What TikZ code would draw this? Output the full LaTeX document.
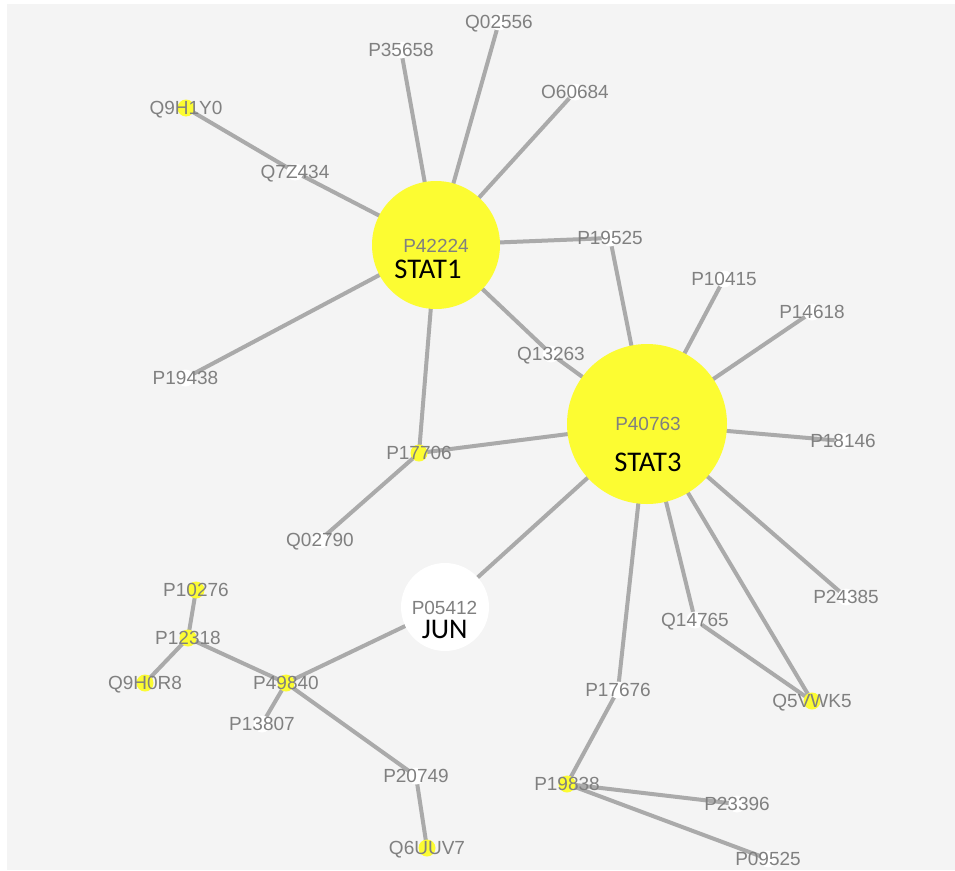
\documentclass[tikz,border=0pt]{standalone}
\usepackage{fontspec}
\setmainfont{Liberation Sans}
\newfontfamily\namefont{Carlito}
\pgfdeclarelayer{backdrop}
\pgfdeclarelayer{edgelayer}
\pgfsetlayers{backdrop,edgelayer,main}
\definecolor{bggray}{RGB}{244,244,244}
\definecolor{edgegray}{RGB}{170,170,170}
\definecolor{idgray}{RGB}{128,128,128}
\definecolor{hityellow}{RGB}{252,252,50}
\tikzset{
  % labels are placed by their baseline so that the cap height is centred on the point
  idtext/.style={text=idgray, font=\fontsize{19}{19}\selectfont, inner sep=0pt,
    anchor=base, yshift=-6.8pt},
  nametext/.style={text=black, font=\namefont\fontsize{28.5}{28.5}\selectfont, inner sep=0pt,
    anchor=base, yshift=-9.2pt},
  prot/.style={circle, inner sep=0pt, minimum size=17pt, fill=white},
  hit/.style={prot, fill=hityellow},
  hub/.style={circle, inner sep=0pt, fill=hityellow},
  link/.style={draw=edgegray, line width=4pt},
}
\begin{document}
\begin{tikzpicture}[x=1pt, y=-1pt]
\useasboundingbox (0,0) rectangle (955,870);
\begin{pgfonlayer}{backdrop}
\fill[bggray] (7,4) rectangle (955,870);
\end{pgfonlayer}

% hub proteins
\node[hub, minimum size=128pt] (P42224) at (436,245) {};
\node[idtext] (P42224id) at (436,246) {P42224};
\node[nametext] (P42224name) at (428,269.5) {STAT1};

\node[hub, minimum size=160pt] (P40763) at (647,424) {};
\node[idtext] (P40763id) at (648,424) {P40763};
\node[nametext] (P40763name) at (648,462) {STAT3};

\node[hub, fill=white, minimum size=88pt] (P05412) at (445,607) {};
\node[idtext] (P05412id) at (444.5,607.5) {P05412};
\node[nametext] (P05412name) at (444.7,629) {JUN};

% interacting proteins
\node[hit]  (Q9H1Y0) at (186,108) {}; \node[idtext] at (Q9H1Y0) {Q9H1Y0};
\node[prot] (Q7Z434) at (295,172) {}; \node[idtext] at (Q7Z434) {Q7Z434};
\node[prot] (P35658) at (401,50) {};  \node[idtext] at (P35658) {P35658};
\node[prot] (Q02556) at (499,22) {};  \node[idtext] at (Q02556) {Q02556};
\node[prot] (O60684) at (575,92) {};  \node[idtext] at (O60684) {O60684};
\node[prot] (P19438) at (185.5,378) {}; \node[idtext] at (P19438) {P19438};
\node[prot] (P19525) at (610,238) {}; \node[idtext] at (P19525) {P19525};
\node[prot] (Q13263) at (551,354) {}; \node[idtext] at (Q13263) {Q13263};
\node[hit]  (P17706) at (419,453) {}; \node[idtext] at (P17706) {P17706};
\node[prot] (Q02790) at (320,540) {}; \node[idtext] at (Q02790) {Q02790};
\node[prot] (P10415) at (724,279) {}; \node[idtext] at (P10415) {P10415};
\node[prot] (P14618) at (812,312) {}; \node[idtext] at (P14618) {P14618};
\node[prot] (P18146) at (843,441) {}; \node[idtext] at (P18146) {P18146};
\node[prot] (P24385) at (846,597) {}; \node[idtext] at (P24385) {P24385};
\node[prot] (Q14765) at (695,620) {}; \node[idtext] at (Q14765) {Q14765};
\node[hit]  (Q5VWK5) at (812,701) {}; \node[idtext] at (Q5VWK5) {Q5VWK5};
\node[prot] (P17676) at (618,690) {}; \node[idtext] at (P17676) {P17676};
\node[hit]  (P19838) at (567,784) {}; \node[idtext] at (P19838) {P19838};
\node[prot] (P23396) at (737,804) {}; \node[idtext] at (P23396) {P23396};
\node[prot] (P09525) at (768,859) {}; \node[idtext] at (P09525) {P09525};
\node[hit]  (P10276) at (196,590) {}; \node[idtext] at (P10276) {P10276};
\node[hit]  (P12318) at (188,638) {}; \node[idtext] at (P12318) {P12318};
\node[hit]  (Q9H0R8) at (145,683) {}; \node[idtext] at (Q9H0R8) {Q9H0R8};
\node[hit]  (P49840) at (286,683) {}; \node[idtext] at (P49840) {P49840};
\node[prot] (P13807) at (262,724) {}; \node[idtext] at (P13807) {P13807};
\node[prot] (P20749) at (416,776) {}; \node[idtext] at (P20749) {P20749};
\node[hit]  (Q6UUV7) at (427,848) {}; \node[idtext] at (Q6UUV7) {Q6UUV7};

% interactions
\begin{pgfonlayer}{edgelayer}
\foreach \a/\b in {P42224/P35658, P42224/Q02556, P42224/O60684, P42224/Q7Z434,
  P42224/P19438, P42224/P19525, P42224/Q13263, P42224/P17706, Q7Z434/Q9H1Y0,
  P40763/P19525, P40763/Q13263, P40763/P17706, P40763/P10415, P40763/P14618,
  P40763/P18146, P40763/P24385, P40763/Q5VWK5, P40763/Q14765, P40763/P17676,
  P40763/P05412, Q14765/Q5VWK5, P17676/P19838, P19838/P23396, P19838/P09525,
  P17706/Q02790, P05412/P49840, P49840/P12318, P49840/P13807, P49840/P20749,
  P20749/Q6UUV7, P12318/P10276, P12318/Q9H0R8}
  \draw[link] (\a.center) -- (\b.center);
\end{pgfonlayer}
\end{tikzpicture}
\end{document}
